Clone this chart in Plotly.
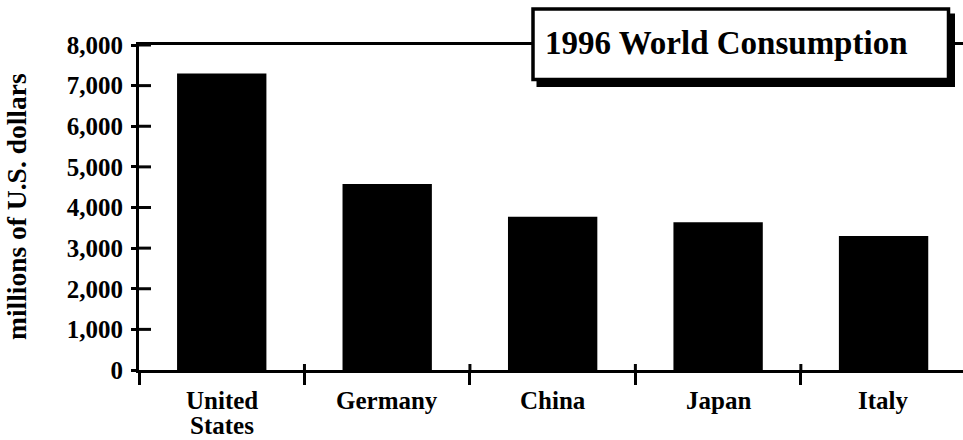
import plotly.graph_objects as go

# 1996 consumption by country, millions of U.S. dollars
countries = ["United States", "Germany", "China", "Japan", "Italy"]
label_lines = [["United", "States"], ["Germany"], ["China"], ["Japan"], ["Italy"]]
consumption = [7300, 4580, 3770, 3640, 3300]

y_ticks = [0, 1000, 2000, 3000, 4000, 5000, 6000, 7000, 8000]
y_max = 8000
chart_title = "1996 World Consumption"
y_title = "millions of U.S. dollars"

W, H = 963, 440
ML, MR, MT, MB = 139, 0, 45, 70
PW, PH = W - ML - MR, H - MT - MB
SERIF = "Liberation Serif, Times New Roman, DejaVu Serif, serif"
INK = "#050505"


def px_x(x):
    return (x - ML) / PW


def px_y(y):
    return (H - MB - y) / PH


fig = go.Figure()
fig.add_trace(go.Bar(
    x=countries, y=consumption,
    marker=dict(color="black", line=dict(width=0)),
    width=0.54, showlegend=False, hoverinfo="skip",
))

n = len(countries)
x_range = [-0.5, n - 0.52]
boundaries = [i + 0.5 for i in range(n - 1)]

fig.update_layout(
    width=W, height=H,
    margin=dict(l=ML, r=MR, t=MT, b=MB, pad=0),
    paper_bgcolor="white", plot_bgcolor="white",
    xaxis=dict(
        type="category", range=x_range, tickson="boundaries",
        showticklabels=False, ticks="outside", ticklen=12, tickwidth=3,
        tickcolor="black", showline=True, linewidth=3, linecolor="black",
        mirror=True, showgrid=False, zeroline=False,
    ),
    yaxis=dict(
        range=[0, y_max], tickvals=y_ticks, tickformat=",d",
        ticks="outside", ticklen=5, tickwidth=3, tickcolor="black",
        ticklabelstandoff=3,
        tickfont=dict(family=SERIF, size=25, color="black", weight="bold"),
        showline=True, linewidth=3, linecolor="black",
        showgrid=False, zeroline=False,
    ),
)

shapes = []
# Tick marks cross the axis lines and continue inside the plot area
for v in y_ticks[1:]:
    yp = v / y_max
    shapes.append(dict(
        type="line", xref="paper", yref="paper", layer="above",
        x0=0, x1=12 / PW, y0=yp, y1=yp,
        line=dict(color=INK, width=3),
    ))
for b in boundaries:
    bx = (b - x_range[0]) / (x_range[1] - x_range[0])
    shapes.append(dict(
        type="line", xref="paper", yref="paper", layer="above",
        x0=bx, x1=bx, y0=0, y1=6 / PH,
        line=dict(color=INK, width=3),
    ))

# Boxed chart title with drop shadow
box = (531.5, 7.5, 950, 81)
shadow_dx, shadow_dy = 5, 6
shapes.append(dict(
    type="rect", xref="paper", yref="paper", layer="above",
    x0=px_x(box[0] + shadow_dx), x1=px_x(box[2] + shadow_dx),
    y0=px_y(box[1] + shadow_dy), y1=px_y(box[3] + shadow_dy),
    fillcolor="black", line=dict(width=0),
))
shapes.append(dict(
    type="rect", xref="paper", yref="paper", layer="above",
    x0=px_x(box[0] + 1.5), x1=px_x(box[2] - 1.5),
    y0=px_y(box[1] + 1.5), y1=px_y(box[3] - 1.5),
    fillcolor="white", line=dict(color="black", width=3.5),
))

# Category labels, one annotation per line for tight line spacing
annotations = []
for cat, lines in zip(countries, label_lines):
    for k, line in enumerate(lines):
        annotations.append(dict(
            x=cat, xref="x", y=0, yref="paper", yanchor="middle",
            yshift=-30 - 25.6 * k, text=line, showarrow=False,
            font=dict(family=SERIF, size=25, color="black", weight="bold"),
        ))

# Rotated y-axis title
annotations.append(dict(
    x=px_x(16), xref="paper", y=px_y(207), yref="paper",
    xanchor="center", yanchor="middle", textangle=-90,
    text=y_title, showarrow=False,
    font=dict(family=SERIF, size=27.5, color="black", weight="bold"),
))
annotations.append(dict(
    x=px_x(726), xref="paper", y=px_y(42.5), yref="paper",
    xanchor="center", yanchor="middle", text=chart_title, showarrow=False,
    font=dict(family=SERIF, size=33, color="black", weight="bold"),
))

fig.update_layout(shapes=shapes, annotations=annotations)
fig.write_html("out.html")
